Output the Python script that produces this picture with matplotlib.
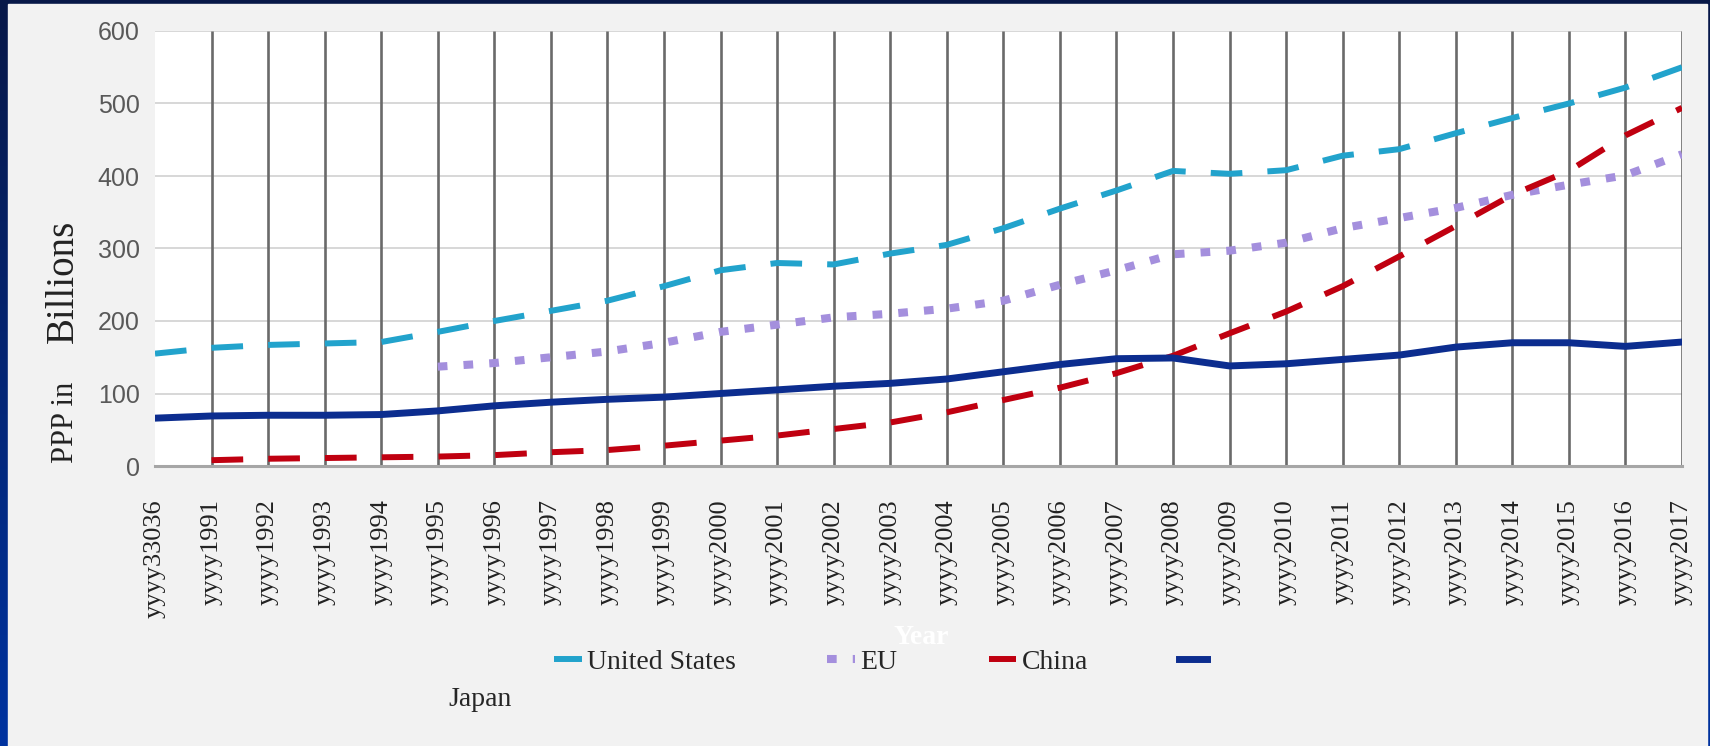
import numpy as np
import matplotlib
matplotlib.use('Agg')
import matplotlib.pyplot as plt
from matplotlib.patches import Rectangle

# categories (as printed on the chart)
years = ['yyyy33036', 'yyyy1991', 'yyyy1992', 'yyyy1993', 'yyyy1994', 'yyyy1995',
         'yyyy1996', 'yyyy1997', 'yyyy1998', 'yyyy1999', 'yyyy2000', 'yyyy2001',
         'yyyy2002', 'yyyy2003', 'yyyy2004', 'yyyy2005', 'yyyy2006', 'yyyy2007',
         'yyyy2008', 'yyyy2009', 'yyyy2010', 'yyyy2011', 'yyyy2012', 'yyyy2013',
         'yyyy2014', 'yyyy2015', 'yyyy2016', 'yyyy2017']

nan = np.nan
us = [155, 163, 167, 169, 171, 185, 200, 214, 228, 248, 270, 280, 278, 293,
      305, 328, 355, 380, 407, 403, 408, 428, 437, 459, 480, 500, 522, 550]
eu = [nan, nan, nan, nan, nan, 137, 142, 150, 158, 170, 185, 195, 205, 210,
      217, 228, 250, 270, 292, 297, 308, 328, 342, 356, 374, 388, 401, 430]
china = [nan, 8, 10, 11, 12, 13, 15, 19, 22, 28, 35, 42, 51, 60,
         74, 91, 108, 128, 152, 183, 213, 248, 289, 331, 374, 407, 456, 494]
japan = [66, 69, 70, 70, 71, 76, 83, 88, 92, 95, 100, 105, 110, 114,
         120, 130, 140, 148, 149, 138, 141, 147, 153, 164, 170, 170, 165, 171]

yticks = [0, 100, 200, 300, 400, 500, 600]

W, H = 1710, 746
fig = plt.figure(figsize=(W / 100, H / 100), dpi=100)

# dark blue slide background + light grey chart panel
bg = fig.add_axes([0, 0, 1, 1])
bg.set_zorder(-1)
grad = np.linspace(0, 1, 256).reshape(-1, 1)
top = np.array([0x08, 0x18, 0x48]) / 255
bot = np.array([0x00, 0x33, 0xa0]) / 255
img = top + (bot - top) * grad[:, :, None]
bg.imshow(img, extent=[0, 1, 0, 1], aspect='auto', origin='upper')
bg.add_patch(Rectangle((8 / W, 0), (1707 - 8) / W, 742 / H, color='#f2f2f2'))
bg.set_xlim(0, 1)
bg.set_ylim(0, 1)
bg.axis('off')

ax = fig.add_axes([155 / W, 1 - 466 / H, (1682 - 155) / W, (466 - 31) / H])
ax.set_facecolor('white')
x = np.arange(len(years))

ax.set_xlim(0, len(years) - 1)
ax.set_ylim(0, 600)
ax.set_yticks(yticks)
ax.yaxis.grid(True, color='#d4d4d4', lw=1.3)
ax.vlines(x[1:], 0, 600, color='#6a6a6a', lw=1.9, zorder=1)
ax.set_axisbelow(True)

l_us, = ax.plot(x, us, color='#22a3cc', lw=4.3, dashes=(5.3, 4.2), zorder=3)
l_eu, = ax.plot(x, eu, color='#a48fdd', lw=5.8, dashes=(1.2, 2.0), zorder=3)
l_cn, = ax.plot(x, china, color='#c00010', lw=4.3, dashes=(5.3, 4.2), zorder=3)
l_jp, = ax.plot(x, japan, color='#0c2d8f', lw=5.0, zorder=4)

for s in ['top', 'left', 'right']:
    ax.spines[s].set_visible(False)
ax.spines['bottom'].set_color('#a6a6a6')
ax.spines['bottom'].set_linewidth(2.2)
ax.spines['bottom'].set_zorder(5)

ax.set_xticks(x)
ax.set_xticklabels(years, rotation=90, family='Liberation Serif', fontsize=19,
                   color='#222222', va='top', ha='center')
ax.set_yticklabels([str(v) for v in yticks], family='Liberation Sans',
                   fontsize=18, color='#595959')
ax.tick_params(axis='x', length=0, pad=24)
ax.tick_params(axis='y', length=0, pad=11)

# y label: two sizes as in the original
fig.text(73 / W, 1 - 463 / H, 'PPP in', rotation=90, rotation_mode='anchor',
         ha='left', va='baseline', family='Liberation Serif', fontsize=22,
         color='#222222')
fig.text(73 / W, 1 - 343 / H, 'Billions', rotation=90, rotation_mode='anchor',
         ha='left', va='baseline', family='Liberation Serif', fontsize=28,
         color='#222222')

fig.text(921 / W, 1 - 637 / H, 'Year', ha='center', va='center', color='white',
         family='Liberation Serif', fontsize=20, fontweight='bold')

fig.legend([l_us, l_eu, l_cn, l_jp], ['United States', 'EU', 'China', ''],
           loc='center left', bbox_to_anchor=(540 / W, 1 - 662 / H), ncol=4,
           frameon=False, borderpad=0, handlelength=1.0, handletextpad=0.18,
           columnspacing=3.3, prop={'family': 'Liberation Serif', 'size': 20},
           labelcolor='#262626')
fig.text(448 / W, 1 - 700 / H, 'Japan', ha='left', va='center',
         family='Liberation Serif', fontsize=20, color='#262626')

fig.savefig('out.png', dpi=100)
